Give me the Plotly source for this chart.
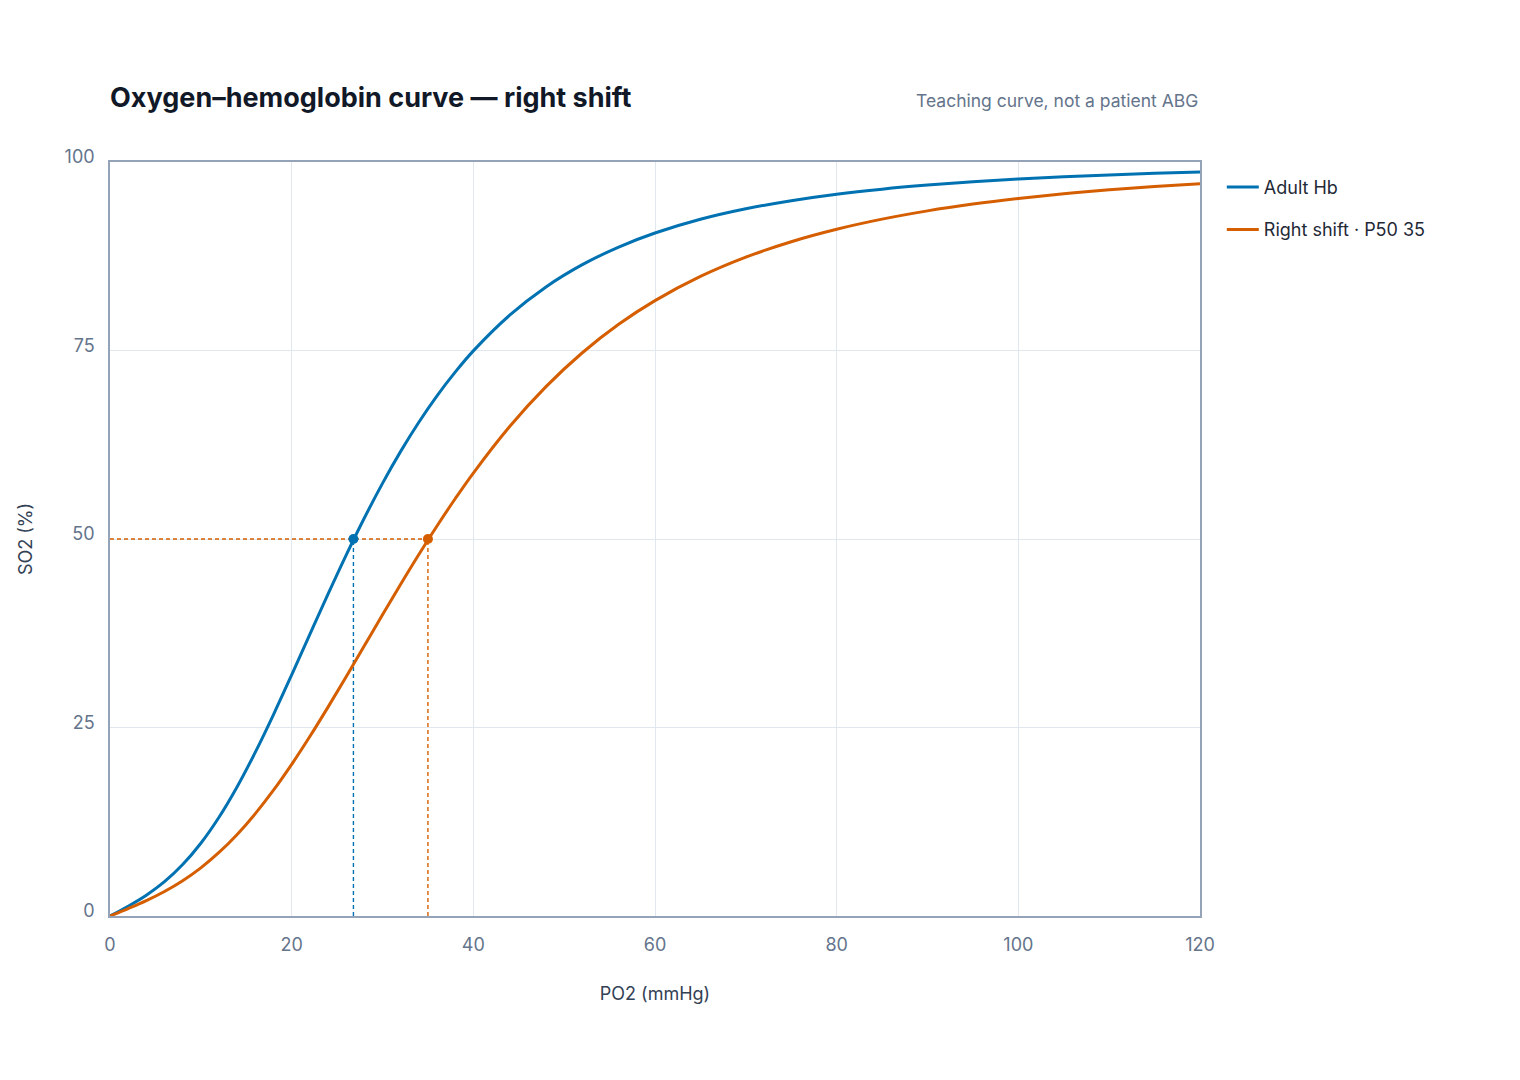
import plotly.graph_objects as go

# PO2 grid (mmHg) and saturation (%)
po2 = [0, 2, 4, 6, 8, 10, 12, 14, 16, 18, 20, 22, 24, 26, 28, 30, 32, 34, 36, 38, 40,
       44, 48, 52, 56, 60, 65, 70, 75, 80, 85, 90, 95, 100, 105, 110, 115, 120]
so2_adult = [0, 1.30, 2.76, 4.55, 6.82, 9.65, 13.10, 17.15, 21.73, 26.72, 31.98,
             37.35, 42.68, 47.86, 52.78, 57.38, 61.62, 65.49, 68.99, 72.13, 74.95,
             79.68, 83.43, 86.38, 88.72, 90.58, 92.40, 93.79, 94.87, 95.73, 96.40,
             96.94, 97.39, 97.75, 98.04, 98.29, 98.50, 98.68]
so2_right = [0, 0.99, 2.04, 3.25, 4.68, 6.39, 8.43, 10.82, 13.58, 16.68, 20.11,
             23.80, 27.70, 31.73, 35.84, 39.95, 44.00, 47.94, 51.73, 55.34, 58.75,
             64.92, 70.21, 74.70, 78.47, 81.61, 84.82, 87.38, 89.43, 91.08, 92.42,
             93.52, 94.42, 95.16, 95.79, 96.31, 96.75, 97.12]

series_names = ['Adult Hb', 'Right shift · P50 35']
p50_values = [26.8, 35]
half_sat = 50
x_ticks = [0, 20, 40, 60, 80, 100, 120]
y_ticks = [0, 25, 50, 75, 100]

blue = '#0072B2'
orange = '#D55E00'
colors = [blue, orange]

fig = go.Figure()

# guide lines at P50
for p50, col in zip(p50_values, colors):
    fig.add_trace(go.Scatter(x=[p50, p50], y=[0, half_sat], mode='lines',
                             line=dict(color=col, width=1.4, dash='4px,3px'),
                             showlegend=False, hoverinfo='skip'))
fig.add_trace(go.Scatter(x=[0, p50_values[1]], y=[half_sat, half_sat], mode='lines',
                         line=dict(color=orange, width=1.4, dash='4px,3px'),
                         showlegend=False, hoverinfo='skip'))

for name, vals, col in zip(series_names, [so2_adult, so2_right], colors):
    fig.add_trace(go.Scatter(x=po2, y=vals, name=name, mode='lines',
                             line=dict(color=col, width=3, shape='spline'),
                             legendgroup=name))

for p50, col in zip(p50_values, colors):
    fig.add_trace(go.Scatter(x=[p50], y=[half_sat], mode='markers',
                             marker=dict(color=col, size=10),
                             showlegend=False))

fig.update_layout(
    width=1520, height=1080,
    margin=dict(l=102, r=328, t=154, b=172),
    plot_bgcolor='white', paper_bgcolor='white',
    font=dict(family='Inter', size=18, color='#64748b'),
    legend=dict(x=1.02, y=0.991, xanchor='left', yanchor='top',
                font=dict(size=18, color='#1f2937'), tracegroupgap=16,
                itemwidth=32),
    annotations=[
        dict(text='<b>Oxygen–hemoglobin curve — right shift</b>', xref='paper', yref='paper',
             x=-0.002, y=1.086, xanchor='left', yanchor='middle', showarrow=False,
             font=dict(size=27, color='#111827')),
        dict(text='Teaching curve, not a patient ABG', xref='paper', yref='paper',
             x=1, y=1.081, xanchor='right', yanchor='middle', showarrow=False,
             font=dict(size=17.5, color='#64748b')),
    ],
)
fig.update_xaxes(range=[0, 120], tickvals=x_ticks, showgrid=True, gridcolor='#e1e7ee',
                 zeroline=False, showline=True, linecolor='#94a3b8', linewidth=1.5, mirror=True,
                 ticks='', ticklabelstandoff=12,
                 title=dict(text='PO2 (mmHg)', font=dict(size=18, color='#334155'), standoff=33))
fig.update_yaxes(range=[0, 100], tickvals=y_ticks, showgrid=True, gridcolor='#e1e7ee',
                 zeroline=False, showline=True, linecolor='#94a3b8', linewidth=1.5, mirror=True,
                 ticks='', ticklabelstandoff=10, ticklabelshift=-5,
                 title=dict(text='SO2 (%)', font=dict(size=18, color='#334155'), standoff=27))

fig.write_html('out.html')
